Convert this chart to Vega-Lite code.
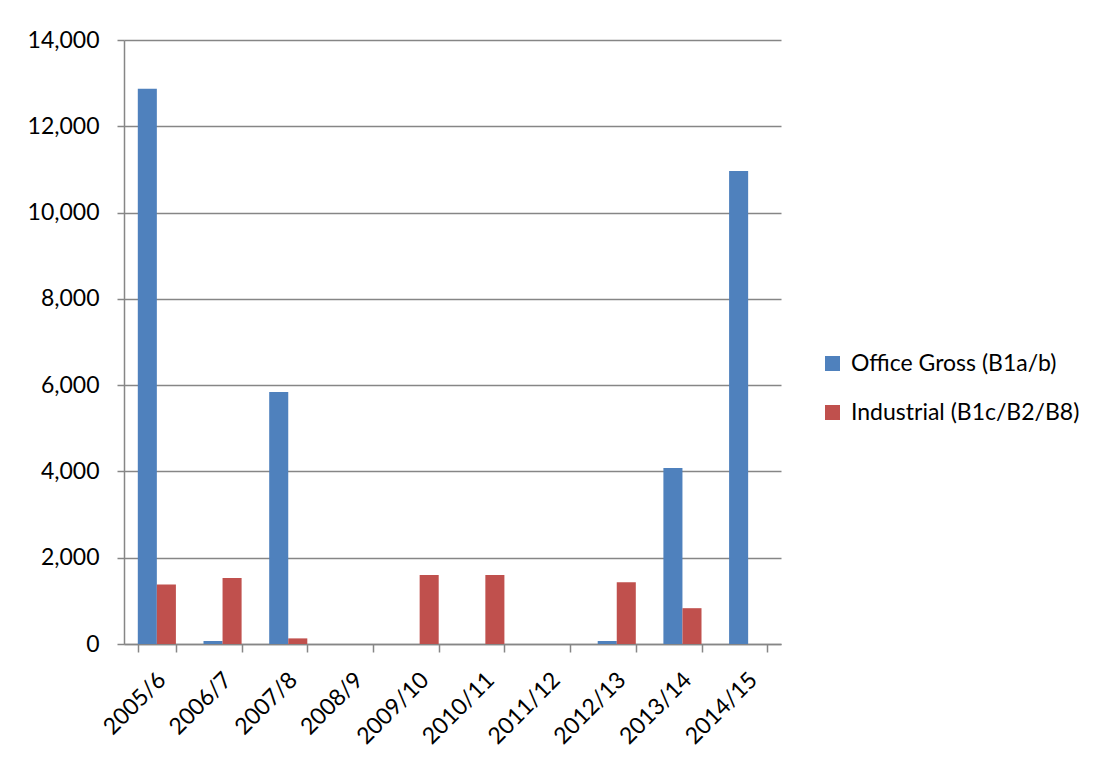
{
  "$schema": "https://vega.github.io/schema/vega-lite/v6.json",
  "autosize": "none",
  "width": 657,
  "height": 604,
  "padding": {"left": 124, "top": 40, "right": 325, "bottom": 113},
  "background": "white",
  "data": {
    "values": [
      {"year": "2005/6", "series": "Office Gross (B1a/b)", "value": 12870},
      {"year": "2005/6", "series": "Industrial (B1c/B2/B8)", "value": 1380},
      {"year": "2006/7", "series": "Office Gross (B1a/b)", "value": 70},
      {"year": "2006/7", "series": "Industrial (B1c/B2/B8)", "value": 1530},
      {"year": "2007/8", "series": "Office Gross (B1a/b)", "value": 5840},
      {"year": "2007/8", "series": "Industrial (B1c/B2/B8)", "value": 130},
      {"year": "2008/9", "series": "Office Gross (B1a/b)", "value": 0},
      {"year": "2008/9", "series": "Industrial (B1c/B2/B8)", "value": 0},
      {"year": "2009/10", "series": "Office Gross (B1a/b)", "value": 0},
      {"year": "2009/10", "series": "Industrial (B1c/B2/B8)", "value": 1600},
      {"year": "2010/11", "series": "Office Gross (B1a/b)", "value": 0},
      {"year": "2010/11", "series": "Industrial (B1c/B2/B8)", "value": 1600},
      {"year": "2011/12", "series": "Office Gross (B1a/b)", "value": 0},
      {"year": "2011/12", "series": "Industrial (B1c/B2/B8)", "value": 0},
      {"year": "2012/13", "series": "Office Gross (B1a/b)", "value": 70},
      {"year": "2012/13", "series": "Industrial (B1c/B2/B8)", "value": 1430},
      {"year": "2013/14", "series": "Office Gross (B1a/b)", "value": 4080},
      {"year": "2013/14", "series": "Industrial (B1c/B2/B8)", "value": 830},
      {"year": "2014/15", "series": "Office Gross (B1a/b)", "value": 10965},
      {"year": "2014/15", "series": "Industrial (B1c/B2/B8)", "value": 0}
    ]
  },
  "mark": {"type": "bar", "stroke": null},
  "encoding": {
    "x": {
      "field": "year", "type": "nominal", "sort": null,
      "scale": {"paddingInner": 0.42, "paddingOuter": 0.21},
      "axis": {
        "title": null, "labelAngle": -45, "labelAlign": "right", "labelBaseline": "middle",
        "labelFont": "Lato", "labelFontSize": 23, "labelColor": "black", "labelPadding": 24,
        "labelOffset": 5,
        "tickBand": "extent", "tickSize": 8, "tickColor": "#868686", "domainColor": "#868686",
        "tickWidth": 1.5, "domainWidth": 1.5, "grid": false
      }
    },
    "xOffset": {"field": "series", "type": "nominal", "sort": ["Office Gross (B1a/b)", "Industrial (B1c/B2/B8)"]},
    "y": {
      "field": "value", "type": "quantitative",
      "scale": {"domain": [0, 14000], "nice": false},
      "axis": {
        "title": null, "values": [0, 2000, 4000, 6000, 8000, 10000, 12000, 14000],
        "format": ",d", "labelFont": "Lato", "labelFontSize": 23, "labelColor": "black",
        "labelPadding": 18, "tickSize": 7, "tickColor": "#868686", "domainColor": "#868686",
        "gridColor": "#868686", "gridWidth": 1.5, "tickWidth": 1.5, "domainWidth": 1.5
      }
    },
    "color": {
      "field": "series", "type": "nominal",
      "sort": ["Office Gross (B1a/b)", "Industrial (B1c/B2/B8)"],
      "scale": {"range": ["#4F81BD", "#C0504D"]},
      "legend": {
        "title": null, "orient": "none", "legendX": 697, "legendY": 312,
        "symbolType": "square", "symbolSize": 225, "symbolStrokeWidth": 0,
        "labelFont": "Lato", "labelFontSize": 23, "labelColor": "black", "labelLimit": 400,
        "rowPadding": 25, "labelOffset": 7
      }
    }
  },
  "config": {"view": {"stroke": null}}
}
